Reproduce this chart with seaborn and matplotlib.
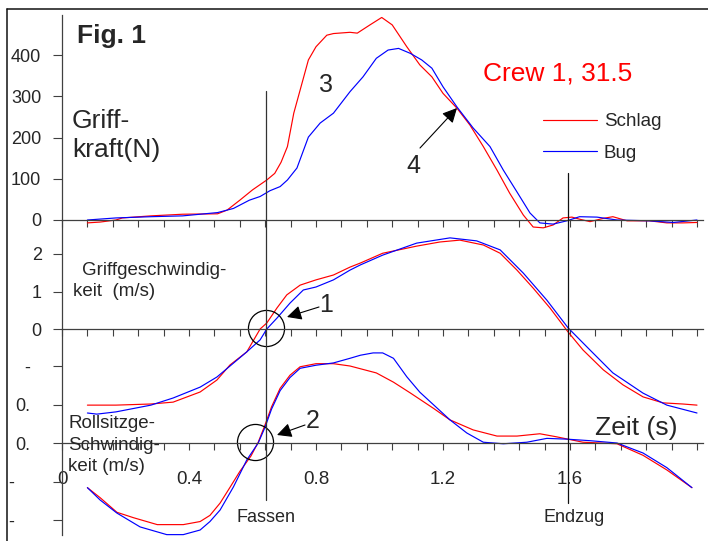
import matplotlib
matplotlib.use("Agg")
import matplotlib.pyplot as plt
import pandas as pd
import seaborn as sns
from matplotlib.lines import Line2D
from matplotlib.patches import FancyArrowPatch
from matplotlib.ticker import FixedLocator, FixedFormatter, MultipleLocator
from matplotlib.transforms import blended_transform_factory

# ---- Werte (Zeit in s) ----
# Griffkraft (N)
t_kraft_schlag = [0.08, 0.12, 0.17, 0.19, 0.28, 0.33, 0.38, 0.49, 0.52, 0.56, 0.60, 0.645, 0.67, 0.69,
                  0.71, 0.73, 0.75, 0.776, 0.80, 0.834, 0.855, 0.907, 0.93, 0.97, 1.007, 1.04, 1.086,
                  1.127, 1.165, 1.20, 1.244, 1.285, 1.327, 1.37, 1.41, 1.453, 1.484, 1.516, 1.547,
                  1.578, 1.606, 1.63, 1.663, 1.705, 1.735, 1.78, 1.85, 1.905, 1.955, 2.0]
kraft_schlag = [-7, -5, 0, 5, 10, 12, 14, 15, 24, 48, 73, 97, 113, 140,
                178, 259, 315, 388, 420, 448, 452, 455, 453, 473, 491, 473, 420,
                376, 347, 307, 271, 230, 178, 121, 65, 12, -17, -19, -12,
                5, 7, 2, -4, 4, 8, -2, -2, -7, -7, -6]
t_kraft_bug = [0.08, 0.17, 0.28, 0.38, 0.49, 0.54, 0.59, 0.624, 0.655, 0.687, 0.71, 0.74, 0.776, 0.813,
               0.855, 0.907, 0.948, 0.99, 1.027, 1.06, 1.097, 1.133, 1.165, 1.20, 1.244, 1.295, 1.348,
               1.39, 1.433, 1.474, 1.505, 1.547, 1.59, 1.63, 1.685, 1.748, 1.85, 1.925, 2.0]
kraft_bug = [0, 5, 8, 10, 18, 28, 48, 57, 71, 81, 97, 126, 201, 235,
             259, 311, 347, 392, 412, 416, 404, 388, 368, 323, 274, 223, 178,
             121, 68, 17, -7, -10, -2, 8, 7, 0, -2, -6, 0]

# Griffgeschwindigkeit (m/s)
t_griff_schlag = [0.08, 0.17, 0.28, 0.35, 0.435, 0.488, 0.529, 0.582, 0.624, 0.645, 0.677, 0.708, 0.75,
                  0.80, 0.855, 0.907, 0.94, 1.01, 1.117, 1.19, 1.253, 1.327, 1.38, 1.433, 1.484, 1.537,
                  1.594, 1.641, 1.705, 1.767, 1.83, 1.893, 1.955, 2.0]
griff_schlag = [-2.03, -2.03, -2.0, -1.95, -1.68, -1.36, -0.96, -0.61, 0.0, 0.16, 0.56, 0.91, 1.17,
                1.31, 1.44, 1.65, 1.76, 2.02, 2.21, 2.32, 2.37, 2.24, 2.02, 1.57, 1.09, 0.56,
                -0.08, -0.56, -1.09, -1.49, -1.81, -1.97, -2.0, -2.03]
t_griff_bug = [0.08, 0.11, 0.17, 0.28, 0.35, 0.435, 0.488, 0.54, 0.582, 0.624, 0.645, 0.677, 0.718,
               0.76, 0.80, 0.855, 0.907, 0.94, 1.01, 1.117, 1.222, 1.306, 1.38, 1.453, 1.527, 1.594,
               1.663, 1.735, 1.83, 1.905, 2.0]
griff_bug = [-2.24, -2.27, -2.21, -2.03, -1.84, -1.55, -1.28, -0.91, -0.61, -0.29, 0.0, 0.29, 0.69,
             1.04, 1.12, 1.31, 1.57, 1.71, 1.97, 2.29, 2.43, 2.35, 2.11, 1.49, 0.77, 0.03,
             -0.56, -1.17, -1.71, -2.03, -2.24]

# Rollsitzgeschwindigkeit (m/s)
t_sitz_schlag = [0.08, 0.12, 0.173, 0.225, 0.30, 0.382, 0.435, 0.466, 0.498, 0.53, 0.56, 0.595, 0.618,
                 0.639, 0.66, 0.687, 0.718, 0.75, 0.80, 0.855, 0.907, 0.99, 1.044, 1.097, 1.17, 1.222,
                 1.295, 1.37, 1.433, 1.505, 1.558, 1.641, 1.748, 1.83, 1.905, 1.984]
sitz_schlag = [-0.58, -0.71, -0.90, -0.97, -1.06, -1.06, -1.02, -0.94, -0.78, -0.57, -0.37, -0.17, 0.01,
               0.23, 0.47, 0.71, 0.88, 0.99, 1.03, 1.03, 1.0, 0.91, 0.79, 0.65, 0.45, 0.3,
               0.17, 0.09, 0.09, 0.12, 0.08, 0.01, -0.01, -0.16, -0.35, -0.58]
t_sitz_bug = [0.08, 0.12, 0.173, 0.246, 0.33, 0.382, 0.435, 0.466, 0.498, 0.54, 0.582, 0.618, 0.639,
              0.66, 0.687, 0.718, 0.75, 0.80, 0.855, 0.907, 0.94, 0.98, 1.01, 1.044, 1.086, 1.127,
              1.222, 1.275, 1.327, 1.39, 1.464, 1.527, 1.59, 1.663, 1.748, 1.83, 1.905, 1.984]
sitz_bug = [-0.58, -0.74, -0.91, -1.09, -1.19, -1.19, -1.13, -1.02, -0.87, -0.57, -0.22, 0.0, 0.2,
            0.44, 0.68, 0.85, 0.97, 1.01, 1.04, 1.1, 1.14, 1.17, 1.17, 1.1, 0.86, 0.66,
            0.3, 0.13, 0.01, -0.01, 0.01, 0.06, 0.05, 0.03, 0.0, -0.13, -0.32, -0.58]

FASSEN_T = 0.642
ENDZUG_T = 1.595

x_ticks = [0, 0.4, 0.8, 1.2, 1.6]
x_ticklabels = ['0', '0.4', '0.8', '1.2', '1.6']
kraft_ticks = [0, 100, 200, 300, 400]
griff_ticks = [0, 1, 2]
sitz_ticks = [-1.0, -0.5, 0, 0.5, 1.0]
sitz_ticklabels = ['', '', '0.', '0.', '-']

sns.set_style("ticks")
plt.rcParams['font.family'] = ['Liberation Sans', 'DejaVu Sans']

COLORS = {'Schlag': '#ff0000', 'Bug': '#0000ff'}
AX_COL = '#404040'

W, H = 708, 541
fig = plt.figure(figsize=(W / 100, H / 100), dpi=100)


def fx(px):
    return px / W


def fy(py):
    return 1 - py / H


X0, PX_PER_S, T_MAX = 62, 317.5, 2.02


def long_df(t1, v1, t2, v2):
    return pd.concat([pd.DataFrame({'t': t1, 'v': v1, 'Boot': 'Schlag'}),
                      pd.DataFrame({'t': t2, 'v': v2, 'Boot': 'Bug'})], ignore_index=True)


def panel(y_top, y_bot, zero_px, px_per_unit, spine_top, spine_bot, ypad):
    ax = fig.add_axes([fx(X0), fy(y_bot), T_MAX * PX_PER_S / W, (y_bot - y_top) / H])
    ax.patch.set_alpha(0)
    ax.set_xlim(0, T_MAX)
    ax.set_ylim((zero_px - y_bot) / px_per_unit, (zero_px - y_top) / px_per_unit)
    for s in ('top', 'right'):
        ax.spines[s].set_visible(False)
    ax.spines['bottom'].set_position(('data', 0))
    ax.spines['left'].set_bounds((zero_px - spine_bot) / px_per_unit, (zero_px - spine_top) / px_per_unit)
    for s in ('left', 'bottom'):
        ax.spines[s].set_color(AX_COL)
        ax.spines[s].set_linewidth(0.9)
    ax.xaxis.set_major_locator(FixedLocator(x_ticks))
    ax.xaxis.set_minor_locator(MultipleLocator(0.08))
    ax.tick_params(axis='x', which='both', bottom=True, direction='out', length=5, width=0.8,
                   color=AX_COL, labelbottom=False)
    ax.tick_params(axis='y', which='major', left=True, direction='out', length=6.5, width=0.8,
                   color=AX_COL, labelsize=13, pad=ypad)
    return ax


ax_kraft = panel(15, 232, 220, 0.4125, 15, 220, 8.5)
ax_griff = panel(220, 420, 329, 37.5, 220, 329, 8)
ax_sitz = panel(329, 541, 443, 77.0, 329, 535, 16.5)

for ax, df in [(ax_kraft, long_df(t_kraft_schlag, kraft_schlag, t_kraft_bug, kraft_bug)),
               (ax_griff, long_df(t_griff_schlag, griff_schlag, t_griff_bug, griff_bug)),
               (ax_sitz, long_df(t_sitz_schlag, sitz_schlag, t_sitz_bug, sitz_bug))]:
    sns.lineplot(data=df, x='t', y='v', hue='Boot', hue_order=['Schlag', 'Bug'], palette=COLORS,
                 estimator=None, sort=False, lw=0.85, legend=False, ax=ax)
    ax.set_xlabel('')
    ax.set_ylabel('')

ax_kraft.yaxis.set_major_locator(FixedLocator(kraft_ticks))
ax_griff.yaxis.set_major_locator(FixedLocator(griff_ticks))
ax_sitz.yaxis.set_major_locator(FixedLocator(sitz_ticks))
ax_sitz.yaxis.set_major_formatter(FixedFormatter(sitz_ticklabels))
ax_sitz.xaxis.set_major_formatter(FixedFormatter(x_ticklabels))
ax_sitz.tick_params(axis='x', which='major', labelbottom=True, labelsize=13.5, pad=15)

# Fassen / Endzug Linien
trans = blended_transform_factory(ax_kraft.transData, fig.transFigure)
fig.add_artist(Line2D([FASSEN_T, FASSEN_T], [fy(91), fy(500)], transform=trans, color='#333333', lw=0.9))
fig.add_artist(Line2D([ENDZUG_T, ENDZUG_T], [fy(173), fy(503)], transform=trans, color='#111111', lw=0.9))

# Kreise um die Nulldurchgaenge
ax_griff.plot([0.642], [0.03], 'o', ms=26, mfc='none', mec='black', mew=0.9, clip_on=False)
ax_sitz.plot([0.608], [0.01], 'o', ms=26, mfc='none', mec='black', mew=0.9, clip_on=False)

# Pfeile
arrow = dict(arrowstyle='-|>', color='black', lw=0.8, mutation_scale=22, shrinkA=0, shrinkB=0)
for head, tail in [((457, 108), (420, 148)), ((287, 317), (319, 307)), ((277, 435), (305, 425))]:
    fig.add_artist(FancyArrowPatch((fx(tail[0]), fy(tail[1])), (fx(head[0]), fy(head[1])),
                                   transform=fig.transFigure, **arrow))

# Rahmen
fig.add_artist(Line2D([fx(7), fx(708)], [fy(9), fy(9)], color='#111111', lw=1.1))
fig.add_artist(Line2D([fx(7), fx(7)], [fy(9), fy(541)], color='#111111', lw=1.1))

# Texte
fig.text(fx(77), fy(43), 'Fig. 1', fontsize=19, fontweight='bold', va='baseline')
fig.text(fx(483), fy(80), 'Crew 1, 31.5', fontsize=19, color='#ff0000', va='baseline')
fig.text(fx(72), fy(128), 'Griff-', fontsize=19, va='baseline')
fig.text(fx(72), fy(157), 'kraft(N)', fontsize=19, va='baseline')
fig.text(fx(326), fy(92), '3', fontsize=18, ha='center', va='baseline')
fig.text(fx(413), fy(173), '4', fontsize=18, ha='center', va='baseline')
fig.text(fx(326), fy(312), '1', fontsize=18, ha='center', va='baseline')
fig.text(fx(313), fy(428), '2', fontsize=18, ha='center', va='baseline')
fig.text(fx(82), fy(275), 'Griffgeschwindig-', fontsize=13.5, va='baseline')
fig.text(fx(73), fy(296), 'keit  (m/s)', fontsize=13.5, va='baseline')
fig.text(fx(68), fy(428), 'Rollsitzge-', fontsize=13.5, va='baseline')
fig.text(fx(68), fy(450), 'Schwindig-', fontsize=13.5, va='baseline')
fig.text(fx(68), fy(471), 'keit (m/s)', fontsize=13.5, va='baseline')
fig.text(fx(595), fy(435), 'Zeit (s)', fontsize=19, va='baseline')
fig.text(fx(266), fy(522), 'Fassen', fontsize=13, ha='center', va='baseline')
fig.text(fx(574), fy(522), 'Endzug', fontsize=13, ha='center', va='baseline')
fig.text(fx(8), fy(483), '-', fontsize=13, va='center')
fig.text(fx(8), fy(522), '-', fontsize=13, va='center')

# Legende
handles = [Line2D([], [], color=COLORS['Schlag'], lw=0.85), Line2D([], [], color=COLORS['Bug'], lw=0.85)]
fig.legend(handles, ['Schlag', 'Bug'], loc='upper left', bbox_to_anchor=(fx(543), fy(113)),
           frameon=False, fontsize=13.5, handlelength=2.9, handletextpad=0.35, labelspacing=0.78,
           borderpad=0, borderaxespad=0)

fig.savefig('out.png', dpi=100)
